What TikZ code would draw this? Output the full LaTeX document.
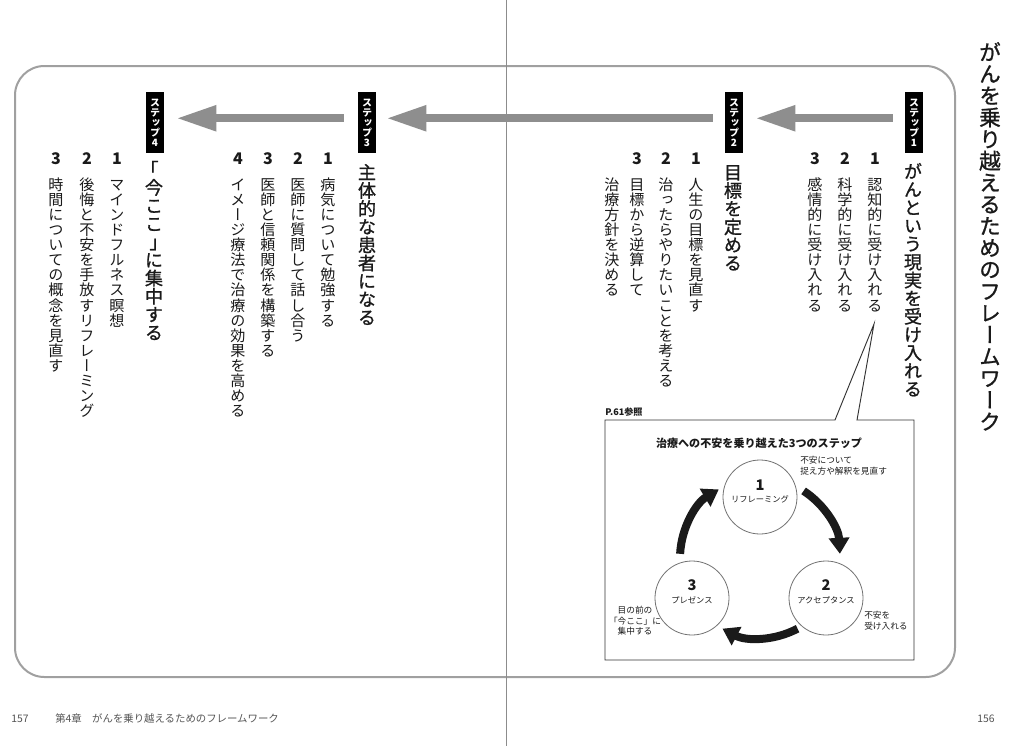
\documentclass[tikz,border=0pt]{standalone}
\usepackage{fontspec}
\setmainfont{Noto Sans CJK JP}
\newfontfamily\vjp[Vertical=RotatedGlyphs]{Noto Sans CJK JP}
\newfontfamily\vjpm[Vertical=RotatedGlyphs,FakeBold=1]{Noto Sans CJK JP}
\newfontfamily\hjp{Noto Sans CJK JP}
\newfontfamily\hjpm[FakeBold=1]{Noto Sans CJK JP}
\usetikzlibrary{arrows.meta,calc}
\definecolor{ink}{HTML}{1A1A1A}
\definecolor{arrowgray}{HTML}{8E8E8E}
\definecolor{framegray}{HTML}{A0A0A0}
\definecolor{footgray}{HTML}{555555}
% vertical text: one upright character per 1em cell (vertical glyph forms from the font)
\let\brfont\hjp
\makeatletter
\newcommand\vtxt[1]{\vbox{\offinterlineskip\vtxt@#1\@nil}}
\def\vtxt@#1{\ifx#1\@nil\else\vcell{#1}\expandafter\vtxt@\fi}
\makeatother
\newcommand\vcell[1]{%
  \ifx#1「\hbox to 1em{\hss\vrule height .88em depth .12em width 0pt{\brfont ｢}\hss}%
  \else\ifx#1」\hbox to 1em{\hss\vrule height .88em depth .12em width 0pt{\brfont ｣}\hss}%
  \else\hbox to 1em{\hss\vrule height .88em depth .12em width 0pt #1\hss}\fi\fi}
\begin{document}
\begin{tikzpicture}[x=0.75pt,y=-0.75pt,
  vmain/.style={anchor=north,inner sep=0pt,text=ink,font=\vjpm\fontsize{16.3pt}{16.3pt}\selectfont},
  vtitle/.style={anchor=north,inner sep=0pt,text=ink,font=\vjpm\let\brfont\hjpm\fontsize{13.6pt}{13.6pt}\selectfont},
  vitem/.style={anchor=north,inner sep=0pt,text=ink,font=\vjp\fontsize{11.3pt}{11.3pt}\selectfont},
  num/.style={inner sep=0pt,text=ink,font=\bfseries\fontsize{12pt}{12pt}\selectfont},
  steplabel/.style={anchor=north,fill=black,text=white,inner sep=0pt,
    minimum width=13.5pt,minimum height=45.75pt,font=\vjp\bfseries\fontsize{7.5pt}{7.5pt}\selectfont},
  grayarrow/.style={draw=arrowgray,line width=6pt,-{Triangle[length=30pt,width=18pt]}},
  circ/.style={circle,draw=black!55,line width=0.6pt,minimum size=55.5pt,inner sep=0pt},
  cnum/.style={inner sep=0pt,text=ink,font=\bfseries\fontsize{11pt}{11pt}\selectfont},
  clab/.style={inner sep=0pt,text=ink,font=\fontsize{6.2pt}{7pt}\selectfont},
  note/.style={inner sep=0pt,text=ink,font=\fontsize{6.5pt}{8pt}\selectfont},
  cyc/.style={draw=ink,line width=6pt,-{Triangle[length=12pt,width=15pt]}},
  footer/.style={inner sep=0pt,text=footgray,font=\fontsize{7.8pt}{9pt}\selectfont}
]
\useasboundingbox (0,0) rectangle (1024,746);
\fill[white] (0,0) rectangle (1024,746);

% frame and gutter
\draw[framegray,line width=1.5pt,rounded corners=22pt] (15,66) rectangle (955,677);
\draw[black!45,line width=0.7pt] (506,0) -- (506,746);

% main title
\node[vmain] (title) at (990,41) {\vtxt{がんを乗り越えるためのフレームワーク}};

% step labels
\node[steplabel] (s1) at (914,92) {\vtxt{ステップ1}};
\node[steplabel] (s2) at (734,92) {\vtxt{ステップ2}};
\node[steplabel] (s3) at (367,92) {\vtxt{ステップ3}};
\node[steplabel] (s4) at (155,92) {\vtxt{ステップ4}};

% gray arrows
\draw[grayarrow] ([shift={(-12,-4.5)}]s1.west) -- ([shift={(12,-4.5)}]s2.east);
\draw[grayarrow] ([shift={(-12,-4.5)}]s2.west) -- ([shift={(10,-4.5)}]s3.east);
\draw[grayarrow] ([shift={(-14,-4.5)}]s3.west) -- ([shift={(12,-4.5)}]s4.east);

% step 1
\node[vtitle] (t1) at (913,162) {\vtxt{がんという現実を受け入れる}};
\node[num] (n11) at (875,159) {1};
\node[vitem] (i11) at (875,177) {\vtxt{認知的に受け入れる}};
\node[num] (n12) at (845,159) {2};
\node[vitem] (i12) at (845,177) {\vtxt{科学的に受け入れる}};
\node[num] (n13) at (815,159) {3};
\node[vitem] (i13) at (815,177) {\vtxt{感情的に受け入れる}};

% step 2
\node[vtitle] (t2) at (733,163) {\vtxt{目標を定める}};
\node[num] (n21) at (696,159) {1};
\node[vitem] (i21) at (696,177) {\vtxt{人生の目標を見直す}};
\node[num] (n22) at (666,159) {2};
\node[vitem] (i22) at (666,177) {\vtxt{治ったらやりたいことを考える}};
\node[num] (n23) at (637,159) {3};
\node[vitem] (i23) at (637,177) {\vtxt{目標から逆算して}};
\node[vitem] (i23b) at (612,177) {\vtxt{治療方針を決める}};

% step 3
\node[vtitle] (t3) at (367,163) {\vtxt{主体的な患者になる}};
\node[num] (n31) at (328,159) {1};
\node[vitem] (i31) at (328,177) {\vtxt{病気について勉強する}};
\node[num] (n32) at (298,159) {2};
\node[vitem] (i32) at (298,177) {\vtxt{医師に質問して話し合う}};
\node[num] (n33) at (268,159) {3};
\node[vitem] (i33) at (268,177) {\vtxt{医師と信頼関係を構築する}};
\node[num] (n34) at (238,159) {4};
\node[vitem] (i34) at (238,177) {\vtxt{イメージ療法で治療の効果を高める}};

% step 4
\node[vtitle] (t4) at (154,160) {\vtxt{「今ここ」に集中する}};
\node[num] (n41) at (117,159) {1};
\node[vitem] (i41) at (117,177) {\vtxt{マインドフルネス瞑想}};
\node[num] (n42) at (87,159) {2};
\node[vitem] (i42) at (87,177) {\vtxt{後悔と不安を手放すリフレーミング}};
\node[num] (n43) at (56,159) {3};
\node[vitem] (i43) at (56,177) {\vtxt{時間についての概念を見直す}};

% inset box with callout
\coordinate (cA) at (835,420);
\coordinate (cB) at (857,420);
\coordinate (apex) at (874,324);
\draw[black!80,line width=0.7pt] (apex) -- (cA) -- (605,420) -- (605,660) -- (914,660) -- (914,420) -- (cB) -- cycle;
\node[inner sep=0pt,anchor=west,text=ink,font=\bfseries\fontsize{6.8pt}{7pt}\selectfont] (ref) at (605,412) {P.61参照};
\node[inner sep=0pt,text=ink,font=\bfseries\fontsize{8.3pt}{9pt}\selectfont] (ititle) at (759,443) {治療への不安を乗り越えた3つのステップ};

\node[circ] (c1) at (760,497) {};
\node[circ] (c2) at (826,598) {};
\node[circ] (c3) at (692,598) {};
\node[cnum] (c1n) at (760,485) {1};
\node[clab] (c1t) at (760,499) {リフレーミング};
\node[cnum] (c2n) at (826,585) {2};
\node[clab] (c2t) at (826,600) {アクセプタンス};
\node[cnum] (c3n) at (692,585) {3};
\node[clab] (c3t) at (692,600) {プレゼンス};

\node[note,anchor=north west,align=left] (a1) at (800,456) {不安について\\捉え方や解釈を見直す};
\node[note,anchor=north west,align=left] (a2) at (864,611) {不安を\\受け入れる};
\node[note,anchor=north,align=center] (a3) at (635,606) {目の前の\\「今ここ」に\\集中する};

% cycle arrows
\coordinate (ctr) at (760,558);
\draw[cyc] ($(ctr)+(-57:80)$) arc[start angle=-57,end angle=-3,radius=80];
\draw[cyc] ($(ctr)+(62:80)$) arc[start angle=62,end angle=118,radius=80];
\draw[cyc] ($(ctr)+(-177:80)$) arc[start angle=-177,end angle=-121,radius=80];

% footer
\node[footer,anchor=west] (p157) at (11,719) {157};
\node[footer,anchor=west] (chap) at (55,719) {第4章　がんを乗り越えるためのフレームワーク};
\node[footer,anchor=west] (p156) at (977,719) {156};
\end{tikzpicture}
\end{document}
